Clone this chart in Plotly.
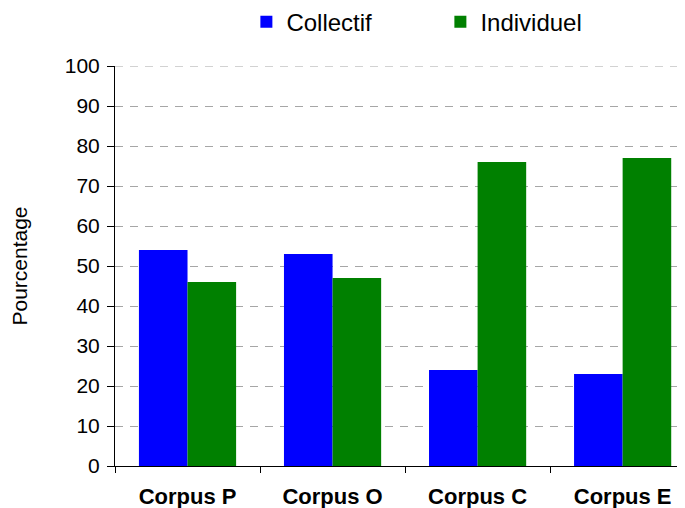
import plotly.graph_objects as go

categories = ["Corpus P", "Corpus O", "Corpus C", "Corpus E"]
collectif = [54, 53, 24, 23]
individuel = [46, 47, 76, 77]
y_ticks = [0, 10, 20, 30, 40, 50, 60, 70, 80, 90, 100]

FONT = "Liberation Sans, Arial, sans-serif"
GRID = "#A6A6A6"
DASH = "8px,7px"

fig = go.Figure()
fig.add_trace(go.Bar(x=categories, y=collectif, name="Collectif",
                     marker=dict(color="#0000FF", line=dict(width=0))))
fig.add_trace(go.Bar(x=categories, y=individuel, name="Individuel",
                     marker=dict(color="#008000", line=dict(width=0))))

fig.update_layout(
    width=685, height=508,
    margin=dict(l=107, r=8, t=58, b=50, autoexpand=False),
    paper_bgcolor="white", plot_bgcolor="white",
    barmode="group", bargap=0.33, bargroupgap=0,
    font=dict(family=FONT, color="black", size=21),
    legend=dict(orientation="h", xref="container", x=0.348, xanchor="left",
                yref="container", y=0.972, yanchor="middle",
                font=dict(size=24), entrywidth=149, entrywidthmode="pixels",
                bgcolor="rgba(0,0,0,0)"),
    showlegend=True,
)
# top gridline (at the upper end of the range, which Plotly omits)
fig.add_shape(type="line", xref="paper", yref="y", x0=0, x1=1,
              y0=y_ticks[-1], y1=y_ticks[-1], layer="below",
              line=dict(color=GRID, width=1, dash=DASH))
fig.update_xaxes(
    range=[-0.5, 3.43], showline=True, linecolor="black", linewidth=1,
    ticks="outside", tickson="boundaries", ticklen=6, tickcolor="black",
    tickfont=dict(size=22, family=FONT, weight="bold"),
    ticklabelstandoff=11, showgrid=False, zeroline=False, automargin=False,
)
fig.update_yaxes(
    range=[0, 100], tickvals=y_ticks, showline=True, linecolor="black", linewidth=1,
    ticks="outside", ticklen=7, tickcolor="black",
    showgrid=True, gridcolor=GRID, griddash=DASH, gridwidth=1,
    zeroline=False, ticklabelstandoff=3, automargin=False,
    tickfont=dict(size=21),
    title=dict(text="Pourcentage", font=dict(size=21), standoff=35),
)
fig.write_html("out.html")
